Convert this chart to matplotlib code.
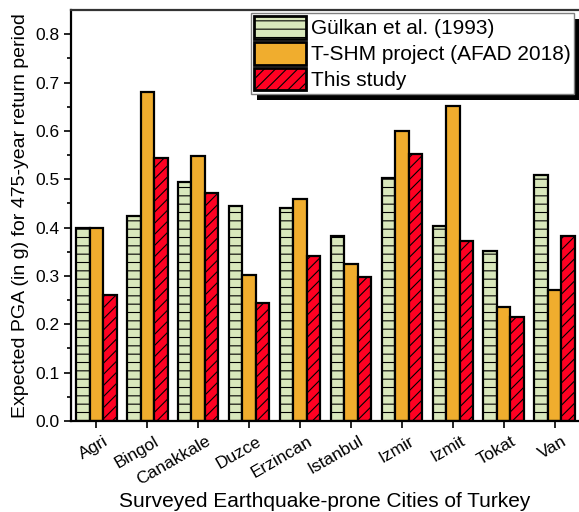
import matplotlib.pyplot as plt
import matplotlib.transforms as mtransforms
from matplotlib.patches import Rectangle
import numpy as np

plt.rcParams['font.family'] = ['Liberation Sans', 'DejaVu Sans']
plt.rcParams['hatch.linewidth'] = 0.8

cities = ['Agri', 'Bingol', 'Canakkale', 'Duzce', 'Erzincan', 'Istanbul',
          'Izmir', 'Izmit', 'Tokat', 'Van']
gulkan = [0.40, 0.425, 0.495, 0.445, 0.44, 0.382, 0.502, 0.403, 0.352, 0.508]
tshm = [0.40, 0.68, 0.548, 0.302, 0.46, 0.325, 0.60, 0.652, 0.235, 0.27]
study = [0.26, 0.543, 0.472, 0.245, 0.342, 0.297, 0.552, 0.373, 0.215, 0.382]

fig = plt.figure(figsize=(5.79, 5.12), dpi=100)
ax = fig.add_axes([0.1226, 0.1777, 0.8774, 0.8027])

x = np.arange(len(cities))
w = 0.265
ax.bar(x - w, gulkan, w, color='#d9e8bc', edgecolor='black', linewidth=1.6,
       hatch='--', label='Gülkan et al. (1993)')
ax.bar(x, tshm, w, color='#f0ad2e', edgecolor='black', linewidth=1.6,
       label='T-SHM project (AFAD 2018)')
ax.bar(x + w, study, w, color='#ff0022', edgecolor='black', linewidth=1.6,
       hatch='///', label='This study')

ax.set_xlim(-0.5, 9.48)
ax.set_ylim(0, 0.85)
ax.set_yticks(np.arange(0, 0.81, 0.1))
ax.set_yticks(np.arange(0.05, 0.85, 0.1), minor=True)
ax.set_xticks(x)
ax.set_xticklabels(cities, rotation=30, ha='right', va='top', rotation_mode='anchor')
ax.tick_params(axis='both', direction='out', labelsize=12.5, width=1.2, length=5)
ax.tick_params(axis='y', which='minor', direction='out', width=1.2, length=3)
ax.tick_params(axis='x', pad=4)
offset = mtransforms.ScaledTranslation(0.07, 0, fig.dpi_scale_trans)
for lab in ax.get_xticklabels():
    lab.set_transform(lab.get_transform() + offset)

for s in ax.spines.values():
    s.set_linewidth(1.6)
ax.spines['top'].set_color('#333333')
ax.spines['right'].set_visible(False)

ax.set_xlabel('Surveyed Earthquake-prone Cities of Turkey', fontsize=15)
ax.xaxis.set_label_coords(0.5, -0.172)
ax.set_ylabel('Expected PGA (in g) for 475-year return period', fontsize=14, labelpad=4)

leg = ax.legend(loc='upper right', fontsize=15, fancybox=False, shadow=False,
                framealpha=1, edgecolor='gray', handlelength=2.5, handleheight=1.3,
                borderpad=0.15, labelspacing=0.15, handletextpad=0.25,
                borderaxespad=0, bbox_to_anchor=(0.99, 0.993))
leg.get_frame().set_linewidth(1.0)
for h in leg.legend_handles:
    h.set_linewidth(2.0)

# drop shadow behind the legend box
fig.canvas.draw()
bb = leg.get_window_extent()
shadow = Rectangle((bb.x0 + 6, bb.y0 - 6), bb.width, bb.height, transform=None,
                   facecolor='black', edgecolor='none', zorder=4.5, clip_on=False)
ax.add_patch(shadow)

fig.savefig('out.png', dpi=100)
